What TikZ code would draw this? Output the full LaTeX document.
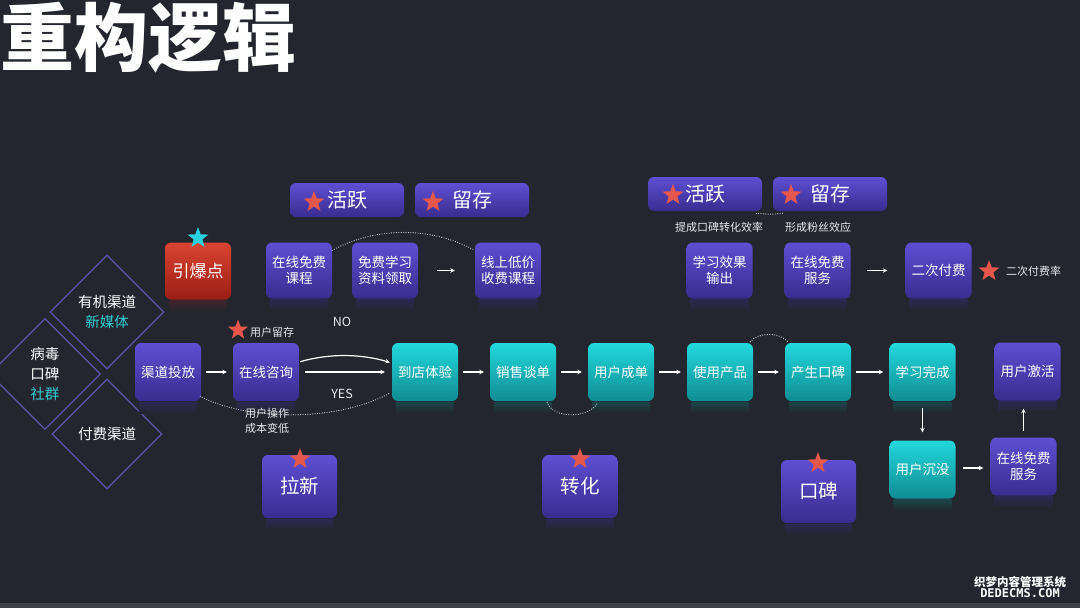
\documentclass[tikz,border=0pt]{standalone}
\usepackage{fontspec}
\setmainfont{Noto Sans CJK SC}
\newfontfamily\wmono{DejaVu Sans Mono}
\usetikzlibrary{shapes.geometric,arrows.meta}
\definecolor{bg}{HTML}{23262E}
\definecolor{pTop}{HTML}{5E4FD3}
\definecolor{pBot}{HTML}{3A2C8E}
\definecolor{tTop}{HTML}{22D8DC}
\definecolor{tBot}{HTML}{0F8C92}
\definecolor{rTop}{HTML}{DA4431}
\definecolor{rBot}{HTML}{9A1D15}
\definecolor{starR}{HTML}{E5574C}
\definecolor{starC}{HTML}{2AD2E0}
\definecolor{diaLine}{HTML}{5A55AA}
\definecolor{cyanTxt}{HTML}{2FCDD3}
\definecolor{dotc}{HTML}{C9D1D9}
\definecolor{refP}{HTML}{2C2852}
\definecolor{refT}{HTML}{1B444A}
\definecolor{refR}{HTML}{3E2428}
\definecolor{lblc}{HTML}{E6E8EC}
\definecolor{strip}{HTML}{3E4148}
\begin{document}
\begin{tikzpicture}[x=1pt,y=-1pt,
  box/.style={rounded corners=6pt, minimum width=66pt, minimum height=58pt, inner sep=0pt, align=center, text=white, font=\fontsize{13.5}{16}\selectfont},
  pbox/.style={box, top color=pTop, bottom color=pBot},
  tbox/.style={box, top color=tTop, bottom color=tBot},
  rbox/.style={box, top color=rTop, bottom color=rBot, font=\fontsize{17}{20}\selectfont},
  catbox/.style={pbox, minimum width=75pt, minimum height=63pt, font=\fontsize{19.5}{22}\selectfont},
  tagbox/.style={pbox, minimum width=114pt, minimum height=34pt, font=\fontsize{20}{22}\selectfont},
  rstar/.style={star, star points=5, star point ratio=2.4, minimum size=22pt, inner sep=0pt, fill=starR},
  cstar/.style={rstar, fill=starC},
  lbl/.style={text=lblc, inner sep=0pt, font=\fontsize{11}{15}\selectfont, align=center},
  dia/.style={diamond, aspect=1, draw=diaLine, line width=1.3pt, inner sep=0pt, align=center, text=white, font=\fontsize{14.5}{20.5}\selectfont},
  arr/.style={draw=white, line width=1.2pt, -{Stealth[length=4.5pt,width=4.5pt]}, shorten <=5pt, shorten >=6pt},
  dotline/.style={draw=dotc, line width=1.2pt, dash pattern=on 0pt off 2.4pt, line cap=round}
]
\useasboundingbox (0,0) rectangle (1080,608);
\fill[bg] (0,0) rectangle (1080,608);
\fill[strip] (0,603) rectangle (1080,608);

% title
\node[anchor=west, inner sep=0pt, text=white, font=\fontsize{74}{80}\selectfont\bfseries] (title) at (0,38) {重构逻辑};

% diamonds
\node[dia, minimum width=114pt, minimum height=114pt] (d1) at (107,312) {有机渠道\\\textcolor{cyanTxt}{新媒体}};
\node[dia, minimum width=111pt, minimum height=111pt, font=\fontsize{14.5}{20}\selectfont] (d2) at (45,374) {病毒\\口碑\\\textcolor{cyanTxt}{社群}};
\node[dia, minimum width=110pt, minimum height=110pt] (d3) at (107,434) {付费渠道};

% top-left tags
\node[tagbox] (hy1) at (347,200) {活跃};
\node[rstar] (s1) at (314,202) {};
\node[tagbox] (ly1) at (472,200) {留存};
\node[rstar] (s2) at (433,202) {};

% top-right tags
\node[tagbox] (hy2) at (705,194) {活跃};
\node[rstar] (s3) at (673,195) {};
\node[tagbox] (ly2) at (830,194) {留存};
\node[rstar] (s4) at (791,195) {};
\node[lbl] (l1) at (719,227) {提成口碑转化效率};
\node[lbl] (l2) at (818,227) {形成粉丝效应};

% top row
\node[rbox, minimum height=57pt] (yinbao) at (198,271) {引爆点};
\node[cstar] (s0) at (198,238) {};
\node[pbox, minimum height=56pt] (zxmf1) at (299,270.5) {在线免费\\课程};
\node[pbox, minimum height=56pt] (mfxx) at (385,270.5) {免费学习\\资料领取};
\node[pbox, minimum height=56pt] (xsdj) at (508,270.5) {线上低价\\收费课程};
\node[pbox, minimum height=56pt] (xxxg) at (719.5,270.5) {学习效果\\输出};
\node[pbox, minimum height=56pt] (zxmf2) at (817.5,270.5) {在线免费\\服务};
\node[pbox, minimum height=56pt] (ecff) at (938.5,270.5) {二次付费};
\node[rstar] (s5) at (989,271) {};
\node[lbl, anchor=west] (l3) at (1006,271) {二次付费率};

% middle row
\node[pbox] (qdtf) at (168,372) {渠道投放};
\node[pbox] (zxzx) at (266,372) {在线咨询};
\node[rstar, minimum size=21pt] (s6) at (238,330) {};
\node[lbl] (l4) at (272,332) {用户留存};
\node[tbox] (ddty) at (425,372) {到店体验};
\node[tbox] (xstd) at (523,372) {销售谈单};
\node[tbox] (yhcd) at (621,372) {用户成单};
\node[tbox] (sycp) at (720,372) {使用产品};
\node[tbox] (csbk) at (818,372) {产生口碑};
\node[tbox] (xxwc) at (922.5,372) {学习完成};
\node[pbox] (yhjh) at (1027.5,371.5) {用户激活};
\node[tbox] (yhcm) at (922.5,469.5) {用户沉没};
\node[pbox] (zxmf3) at (1023.5,466.5) {在线免费\\服务};

\node[lbl, font=\fontsize{12.5}{14}\selectfont] (no) at (342,322) {NO};
\node[lbl, font=\fontsize{12.5}{14}\selectfont] (yes) at (342,394) {YES};

% category boxes
\node[catbox] (lx) at (299.5,486.5) {拉新};
\node[rstar] (s7) at (300,459) {};
\node[catbox] (zh) at (580,486.5) {转化};
\node[rstar] (s8) at (580,459) {};
\node[catbox] (kb) at (818.5,491.5) {口碑};
\node[rstar] (s9) at (818,463) {};

% reflections
\foreach \n/\c in {qdtf/refP,zxzx/refP,yhjh/refP,zxmf3/refP,zxmf1/refP,mfxx/refP,xsdj/refP,xxxg/refP,zxmf2/refP,ecff/refP,lx/refP,zh/refP,kb/refP,ddty/refT,xstd/refT,yhcd/refT,sycp/refT,csbk/refT,xxwc/refT,yhcm/refT,yinbao/refR}
  \shade[top color=\c, bottom color=bg] ([xshift=4pt,yshift=-1pt]\n.south west) rectangle ([xshift=-4pt,yshift=-12pt]\n.south east);

% arrows
\draw[arr, shorten <=19pt, shorten >=20pt] (mfxx) -- (xsdj);
\draw[arr, shorten <=16pt, shorten >=18pt] (zxmf2) -- (ecff);
\draw[arr] (qdtf) -- (zxzx);
\draw[arr, shorten <=6pt, shorten >=7pt] (zxzx) -- (ddty);
\draw[arr, shorten <=1pt, shorten >=2pt] ([yshift=10pt]zxzx.east) .. controls (330,353) and (362,354) .. ([yshift=9pt]ddty.west);
\draw[arr] (ddty) -- (xstd);
\draw[arr] (xstd) -- (yhcd);
\draw[arr] (yhcd) -- (sycp);
\draw[arr] (sycp) -- (csbk);
\draw[arr] (csbk) -- (xxwc);
\draw[arr, shorten <=7pt, shorten >=8pt] (xxwc) -- (yhcm);
\draw[arr, shorten <=7pt, shorten >=7pt] (yhcm.east |- 0,468) -- (zxmf3.west |- 0,468);
\draw[arr, shorten <=6pt, shorten >=8pt] (zxmf3.north) -- (zxmf3.north |- yhjh.south);

% dotted curves
\draw[dotline] ([yshift=-8pt]zxmf1.north east) .. controls (375,227) and (430,226) .. ([yshift=-8pt]xsdj.north west);
\draw[dotline] ([xshift=-6pt,yshift=-2pt]hy2.south east) .. controls (765,214.5) and (775,214.5) .. ([xshift=10pt,yshift=-2pt]ly2.south west);
\draw[dotline] ([xshift=-1pt,yshift=5pt]qdtf.south east) .. controls (240,418) and (330,425) .. ([xshift=-2pt,yshift=8pt]ddty.south west);
\draw[dotline] ([xshift=-9pt,yshift=-1pt]xstd.south east) .. controls (552,419) and (590,419) .. ([xshift=10pt,yshift=-1pt]yhcd.south west);
\draw[dotline] ([xshift=-3pt,yshift=1pt]sycp.north east) .. controls (758,332) and (780,332) .. ([xshift=3pt,yshift=1pt]csbk.north west);

\node[lbl] (l5) at (267,421) {用户操作\\成本变低};

% watermark
\node[inner sep=0pt, text=white, font=\fontsize{11.5}{12}\selectfont\bfseries] (wm1) at (1020,582) {织梦内容管理系统};
\node[inner sep=0pt, text=white, font=\wmono\fontsize{12}{12}\selectfont\bfseries] (wm2) at (1020,593) {DEDECMS.COM};
\end{tikzpicture}
\end{document}
